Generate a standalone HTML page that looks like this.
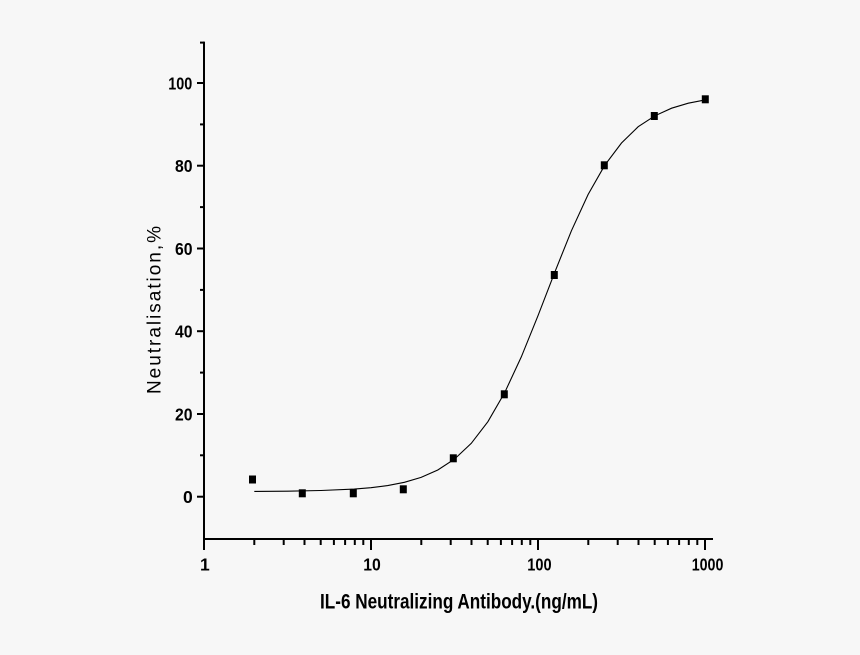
<!DOCTYPE html>
<html>
<head>
<meta charset="utf-8">
<style>
html,body{margin:0;padding:0;background:#f7f7f7;}
svg{display:block;}
text{font-family:"Liberation Sans",Arial,sans-serif;fill:#000;}
</style>
</head>
<body>
<svg width="860" height="655" viewBox="0 0 860 655" xmlns="http://www.w3.org/2000/svg">
<rect x="0" y="0" width="860" height="655" fill="#f7f7f7"/>
<g stroke="#000" stroke-width="2" fill="none">
<line x1="204" y1="41.6" x2="204" y2="540"/>
<line x1="203" y1="539" x2="713" y2="539"/>
<line x1="197" y1="496.7" x2="204" y2="496.7"/>
<line x1="197" y1="414" x2="204" y2="414"/>
<line x1="197" y1="331.2" x2="204" y2="331.2"/>
<line x1="197" y1="248.5" x2="204" y2="248.5"/>
<line x1="197" y1="165.7" x2="204" y2="165.7"/>
<line x1="197" y1="83" x2="204" y2="83"/>
<line x1="200" y1="455.3" x2="204" y2="455.3"/>
<line x1="200" y1="372.6" x2="204" y2="372.6"/>
<line x1="200" y1="289.9" x2="204" y2="289.9"/>
<line x1="200" y1="207.1" x2="204" y2="207.1"/>
<line x1="200" y1="124.4" x2="204" y2="124.4"/>
<line x1="200" y1="42.6" x2="204" y2="42.6"/>
<line x1="204" y1="539" x2="204" y2="550"/>
<line x1="371" y1="539" x2="371" y2="550"/>
<line x1="538" y1="539" x2="538" y2="550"/>
<line x1="705" y1="539" x2="705" y2="550"/>
<line x1="254.3" y1="539" x2="254.3" y2="545"/>
<line x1="283.7" y1="539" x2="283.7" y2="545"/>
<line x1="304.5" y1="539" x2="304.5" y2="545"/>
<line x1="320.7" y1="539" x2="320.7" y2="545"/>
<line x1="333.9" y1="539" x2="333.9" y2="545"/>
<line x1="345.1" y1="539" x2="345.1" y2="545"/>
<line x1="354.8" y1="539" x2="354.8" y2="545"/>
<line x1="363.3" y1="539" x2="363.3" y2="545"/>
<line x1="421.3" y1="539" x2="421.3" y2="545"/>
<line x1="450.7" y1="539" x2="450.7" y2="545"/>
<line x1="471.5" y1="539" x2="471.5" y2="545"/>
<line x1="487.7" y1="539" x2="487.7" y2="545"/>
<line x1="500.9" y1="539" x2="500.9" y2="545"/>
<line x1="512.1" y1="539" x2="512.1" y2="545"/>
<line x1="521.8" y1="539" x2="521.8" y2="545"/>
<line x1="530.3" y1="539" x2="530.3" y2="545"/>
<line x1="588.3" y1="539" x2="588.3" y2="545"/>
<line x1="617.7" y1="539" x2="617.7" y2="545"/>
<line x1="638.5" y1="539" x2="638.5" y2="545"/>
<line x1="654.7" y1="539" x2="654.7" y2="545"/>
<line x1="667.9" y1="539" x2="667.9" y2="545"/>
<line x1="679.1" y1="539" x2="679.1" y2="545"/>
<line x1="688.8" y1="539" x2="688.8" y2="545"/>
<line x1="697.3" y1="539" x2="697.3" y2="545"/>
</g>
<polyline fill="none" stroke="#000" stroke-width="1.1" points="254.3,491.4 287.5,491.2 320.9,490.5 354.3,489.1 371,487.7 387.7,485.6 404.4,482.3 421.1,477.4 437.8,470.0 454.5,459.1 471.2,443.4 487.9,421.7 504.6,392.8 521.3,356.9 538,315.7 554.7,272.4 571.4,230.8 588.1,194.5 604.8,165.2 621.5,143.0 638.2,126.7 654.9,115.8 671.6,108.2 688.3,103.2 705,99.9"/>
<g fill="#000">
<rect x="249" y="475.5" width="7" height="8"/>
<rect x="298.8" y="489.3" width="7" height="8"/>
<rect x="349.8" y="489.3" width="7" height="8"/>
<rect x="399.8" y="485.3" width="7" height="8"/>
<rect x="449.8" y="454.3" width="7" height="8"/>
<rect x="500.8" y="390.3" width="7" height="8"/>
<rect x="550.8" y="271" width="7" height="8"/>
<rect x="600.8" y="161.3" width="7" height="8"/>
<rect x="650.8" y="112" width="7" height="8"/>
<rect x="701.8" y="95.3" width="7" height="8"/>
</g>
<g font-size="17.5" font-weight="bold">
<text x="168.3" y="89.3" textLength="24" lengthAdjust="spacingAndGlyphs">100</text>
<text x="175" y="172" textLength="17.5" lengthAdjust="spacingAndGlyphs">80</text>
<text x="175" y="254.8" textLength="17.5" lengthAdjust="spacingAndGlyphs">60</text>
<text x="175" y="337.5" textLength="17.5" lengthAdjust="spacingAndGlyphs">40</text>
<text x="175" y="420.3" textLength="17.5" lengthAdjust="spacingAndGlyphs">20</text>
<text x="183" y="503">0</text>
<text x="200" y="570.7">1</text>
<text x="363.3" y="570.7" textLength="17.5" lengthAdjust="spacingAndGlyphs">10</text>
<text x="527.3" y="570.7" textLength="24.3" lengthAdjust="spacingAndGlyphs">100</text>
<text x="691.7" y="570.7" textLength="31.7" lengthAdjust="spacingAndGlyphs">1000</text>
</g>
<text x="320" y="608.3" font-size="21.5" font-weight="bold" textLength="278" lengthAdjust="spacingAndGlyphs">IL-6 Neutralizing Antibody.(ng/mL)</text>
<text transform="translate(160.5,394) rotate(-90)" x="0" y="0" font-size="19" textLength="168" lengthAdjust="spacing">Neutralisation,%</text>
</svg>
</body>
</html>
